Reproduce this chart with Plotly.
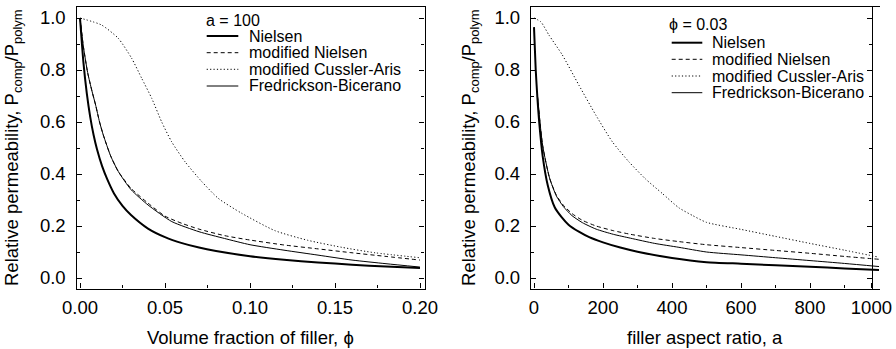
import plotly.graph_objects as go

W, H = 896, 349
FONT = "Liberation Sans, Arial, Helvetica, sans-serif"

# ---------------- Left panel: a = 100, x = volume fraction phi ----------------
phi_nielsen = [0, 0.002, 0.004, 0.006, 0.008, 0.010, 0.013, 0.016, 0.020, 0.025, 0.030,
               0.040, 0.050, 0.060, 0.070, 0.080, 0.100, 0.120, 0.140, 0.160, 0.180, 0.200]
p_nielsen_phi = [1.0, 0.83, 0.71, 0.62, 0.55, 0.495, 0.43, 0.38, 0.325, 0.277, 0.242,
                 0.19, 0.157, 0.134, 0.117, 0.104, 0.084, 0.070, 0.060, 0.051, 0.044, 0.038]

phi_fb = [0, 0.002, 0.0045, 0.007, 0.0092, 0.0115, 0.0137, 0.018, 0.0225, 0.030, 0.040,
          0.054, 0.070, 0.085, 0.100, 0.120, 0.140, 0.160, 0.180, 0.200]
p_fb_phi = [1.0, 0.89, 0.79, 0.72, 0.665, 0.60, 0.55, 0.47, 0.41, 0.34, 0.281,
            0.217, 0.178, 0.152, 0.128, 0.107, 0.088, 0.069, 0.055, 0.042]

phi_modn = [0, 0.002, 0.0045, 0.007, 0.0092, 0.0115, 0.0137, 0.018, 0.0225, 0.030, 0.040,
            0.050, 0.060, 0.070, 0.085, 0.100, 0.120, 0.140, 0.160, 0.180, 0.200]
p_modn_phi = [1.0, 0.89, 0.79, 0.72, 0.665, 0.60, 0.55, 0.47, 0.41, 0.345, 0.288,
              0.238, 0.21, 0.188, 0.163, 0.146, 0.127, 0.112, 0.097, 0.083, 0.069]

phi_mca = [0, 0.0127, 0.0225, 0.0304, 0.0363, 0.0422, 0.048, 0.0539, 0.0618, 0.0716,
           0.0814, 0.0951, 0.1147, 0.134, 0.154, 0.1735, 0.200]
p_mca_phi = [1.0, 0.973, 0.922, 0.845, 0.768, 0.691, 0.601, 0.524, 0.447, 0.371,
             0.306, 0.249, 0.182, 0.145, 0.118, 0.097, 0.078]

# ---------------- Right panel: phi = 0.03, x = aspect ratio a ----------------
a_nielsen = [0, 5, 10, 15, 25, 40, 60, 80, 100, 130, 160, 200, 250, 300, 400, 500,
             600, 700, 800, 900, 1000]
p_nielsen_a = [0.965, 0.80, 0.69, 0.60, 0.47, 0.356, 0.272, 0.234, 0.205, 0.178, 0.157,
               0.137, 0.117, 0.101, 0.077, 0.061, 0.055, 0.049, 0.043, 0.037, 0.031]

a_fb = [10, 25, 45, 65, 85, 110, 140, 180, 230, 280, 350, 420, 500, 600, 700, 800, 900, 1000]
p_fb_a = [0.70, 0.51, 0.385, 0.315, 0.275, 0.24, 0.213, 0.188, 0.168, 0.153, 0.133,
          0.118, 0.100, 0.089, 0.078, 0.067, 0.056, 0.044]

a_modn = [10, 25, 45, 65, 85, 110, 140, 180, 230, 280, 350, 420, 500, 600, 700, 800, 900, 1000]
p_modn_a = [0.70, 0.51, 0.385, 0.318, 0.28, 0.248, 0.222, 0.20, 0.182, 0.168, 0.152,
            0.14, 0.128, 0.117, 0.106, 0.095, 0.083, 0.072]

a_mca = [0, 20, 43, 82, 130, 179, 227, 275, 324, 372, 420, 460, 500, 600, 700, 800, 900, 1000]
p_mca_a = [1.0, 0.985, 0.935, 0.858, 0.742, 0.627, 0.524, 0.447, 0.38, 0.325, 0.27,
           0.24, 0.214, 0.187, 0.16, 0.133, 0.107, 0.08]

series_names = ["Nielsen", "modified Nielsen", "modified Cussler-Aris", "Fredrickson-Bicerano"]
left_legend_title = "a = 100"
right_legend_title = "\u03d5 = 0.03"
x_ticks_left = [0, 0.05, 0.10, 0.15, 0.20]
x_ticklabels_left = ["0.00", "0.05", "0.10", "0.15", "0.20"]
# the last major tick of the reference sits on the right frame line (just short of 1000)
x_ticks_right = [0, 200, 400, 600, 800, 978]
x_ticklabels_right = ["0", "200", "400", "600", "800", "1000"]
x_minor_right = [100, 300, 500, 700, 900]
y_ticks = [0, 0.2, 0.4, 0.6, 0.8, 1.0]
y_ticklabels = ["0.0", "0.2", "0.4", "0.6", "0.8", "1.0"]
y_minor = [0.1, 0.3, 0.5, 0.7, 0.9]

# line styles (name -> (width, dash))
styles = {
    "Nielsen": (2.0, "solid"),
    "modified Nielsen": (1.0, "4px,3px"),
    "modified Cussler-Aris": (1.0, "1.2px,2.2px"),
    "Fredrickson-Bicerano": (1.0, "solid"),
}


def px(x):
    return x / W


def py(y):
    return 1 - y / H


fig = go.Figure()

left_data = {
    "Nielsen": (phi_nielsen, p_nielsen_phi),
    "modified Nielsen": (phi_modn, p_modn_phi),
    "modified Cussler-Aris": (phi_mca, p_mca_phi),
    "Fredrickson-Bicerano": (phi_fb, p_fb_phi),
}
right_data = {
    "Nielsen": (a_nielsen, p_nielsen_a),
    "modified Nielsen": (a_modn, p_modn_a),
    "modified Cussler-Aris": (a_mca, p_mca_a),
    "Fredrickson-Bicerano": (a_fb, p_fb_a),
}

# invisible trace that makes the helper subplot (right frame line of right panel) exist
fig.add_trace(go.Scatter(x=[0], y=[-5], mode="lines", xaxis="x3", yaxis="y3",
                         showlegend=False, hoverinfo="skip"))

for name in series_names:
    w, d = styles[name]
    xs, ys = left_data[name]
    fig.add_trace(go.Scatter(x=xs, y=ys, mode="lines", name=name, showlegend=False,
                             line=dict(color="black", width=w, dash=d, shape="spline", smoothing=0.6),
                             xaxis="x", yaxis="y"))
    xs, ys = right_data[name]
    fig.add_trace(go.Scatter(x=xs, y=ys, mode="lines", name=name, showlegend=False,
                             line=dict(color="black", width=w, dash=d, shape="spline", smoothing=0.6),
                             xaxis="x2", yaxis="y2"))

LW = 1.3
tickfont = dict(family=FONT, size=18.5, color="black")
yrange = [-0.0404, 1.0423]
ydom = [py(288.5), py(7)]
minor_y = dict(tickvals=y_minor, ticks="inside", ticklen=3, tickwidth=1.2,
               tickcolor="black", showgrid=False)

common_y = dict(range=yrange, domain=ydom, showline=True, linecolor="black", linewidth=LW,
                ticks="inside", ticklen=5, tickwidth=1.2, tickcolor="black",
                tickvals=y_ticks, ticktext=y_ticklabels, tickfont=tickfont, minor=minor_y,
                showgrid=False, zeroline=False, ticklabelstandoff=6, automargin=False)

fig.update_layout(
    template="none",
    width=W, height=H, margin=dict(l=0, r=0, t=0, b=0, autoexpand=False),
    paper_bgcolor="white", plot_bgcolor="rgba(0,0,0,0)", showlegend=False,
    font=dict(family=FONT, color="black"),
    xaxis=dict(domain=[px(76.5), px(424.5)], range=[-0.00206, 0.20265], anchor="y",
               showline=True, linecolor="black", linewidth=LW, mirror=True,
               ticks="inside", ticklen=5, tickwidth=1.2, tickcolor="black",
               tickvals=x_ticks_left, ticktext=x_ticklabels_left, tickfont=tickfont,
               minor=dict(tickvals=[0.025, 0.075, 0.125, 0.175], ticks="inside", ticklen=3,
                          tickwidth=1.2, tickcolor="black", showgrid=False),
               showgrid=False, zeroline=False, ticklabelstandoff=2, automargin=False),
    yaxis=dict(anchor="x", mirror="ticks", **common_y),
    xaxis2=dict(domain=[px(531), px(880)], range=[-8.7, 1002.9], anchor="y2",
                showline=True, linecolor="black", linewidth=LW, mirror=True,
                ticks="inside", ticklen=5, tickwidth=1.2, tickcolor="black",
                tickvals=x_ticks_right, ticktext=x_ticklabels_right, tickfont=tickfont,
                minor=dict(tickvals=x_minor_right, ticks="inside", ticklen=3,
                           tickwidth=1.2, tickcolor="black", showgrid=False),
                showgrid=False, zeroline=False, ticklabelstandoff=2, automargin=False,
                ticklabeloverflow="allow"),
    yaxis2=dict(anchor="x2", **common_y),
    xaxis3=dict(domain=[px(531), px(872)], range=[0, 1], anchor="y3", visible=False,
                automargin=False),
    yaxis3=dict(domain=ydom, range=yrange, anchor="x3", side="right", showline=True,
                linecolor="black", linewidth=LW, ticks="inside", ticklen=5, tickwidth=1.2,
                tickcolor="black", tickvals=y_ticks, showticklabels=False, minor=minor_y,
                showgrid=False, zeroline=False, automargin=False),
)

annotations = []
shapes = []
titlefont = dict(family=FONT, size=18.5, color="black")
ytitle = "Relative permeability, P<sub>comp</sub>/P<sub>polym</sub>"
annotations.append(dict(text="Volume fraction of filler, \u03d5", x=px(250), y=py(337),
                        xref="paper", yref="paper", showarrow=False, font=titlefont,
                        xanchor="center", yanchor="middle"))
annotations.append(dict(text="filler aspect ratio, a", x=px(705), y=py(337),
                        xref="paper", yref="paper", showarrow=False, font=titlefont,
                        xanchor="center", yanchor="middle"))
annotations.append(dict(text=ytitle, x=px(13), y=py(148), textangle=-90,
                        xref="paper", yref="paper", showarrow=False, font=titlefont,
                        xanchor="center", yanchor="middle"))
annotations.append(dict(text=ytitle, x=px(470), y=py(148), textangle=-90,
                        xref="paper", yref="paper", showarrow=False, font=titlefont,
                        xanchor="center", yanchor="middle"))

legfont = dict(family=FONT, size=16, color="black")


def add_legend(title, title_x, title_y, rows_y, line_x0, line_x1, text_x):
    annotations.append(dict(text=title, x=px(title_x), y=py(title_y), xref="paper", yref="paper",
                            showarrow=False, font=legfont, xanchor="left", yanchor="middle"))
    for name, ry in zip(series_names, rows_y):
        w, d = styles[name]
        shapes.append(dict(type="line", xref="paper", yref="paper",
                           x0=px(line_x0), x1=px(line_x1), y0=py(ry), y1=py(ry),
                           line=dict(color="black", width=w, dash=d)))
        annotations.append(dict(text=name, x=px(text_x), y=py(ry), xref="paper", yref="paper",
                                showarrow=False, font=legfont, xanchor="left", yanchor="middle"))


add_legend(left_legend_title, 204, 20, [36, 52.7, 69.3, 86], 206.7, 238.3, 246.5)
add_legend(right_legend_title, 667, 25, [42.7, 59.3, 76, 92.7], 671.7, 702.3, 709.5)

fig.update_layout(annotations=annotations, shapes=shapes)

fig.write_html("out.html")
